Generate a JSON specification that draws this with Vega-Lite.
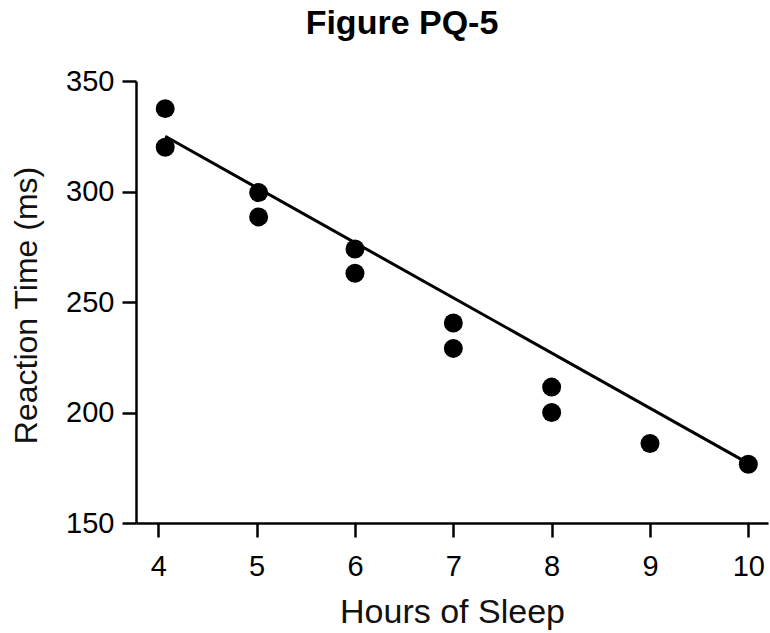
{
  "$schema": "https://vega.github.io/schema/vega-lite/v6.json",
  "autosize": "none",
  "width": 632,
  "height": 442,
  "padding": {"left": 136, "top": 81, "right": 2, "bottom": 110},
  "background": "white",
  "title": {
    "text": "Figure PQ-5",
    "font": "Liberation Sans",
    "fontSize": 34,
    "fontWeight": "bold",
    "color": "black",
    "anchor": "middle",
    "frame": "group",
    "baseline": "alphabetic",
    "offset": -1,
    "dx": -50
  },
  "config": {
    "view": {"stroke": null},
    "font": "Liberation Sans",
    "axis": {
      "grid": false,
      "domainColor": "black",
      "domainWidth": 2.5,
      "tickColor": "black",
      "tickWidth": 2.5,
      "tickSize": 14,
      "labelFont": "Liberation Sans",
      "labelFontSize": 29,
      "labelColor": "black",
      "titleFont": "Liberation Sans",
      "titleFontWeight": "normal",
      "titleColor": "#111"
    }
  },
  "datasets": {
    "points": [
      {"hours": 4.07, "rt": 337.5},
      {"hours": 4.07, "rt": 320},
      {"hours": 5.02, "rt": 299.5},
      {"hours": 5.02, "rt": 288.5},
      {"hours": 6.0, "rt": 274},
      {"hours": 6.0, "rt": 263},
      {"hours": 7.0, "rt": 240.5},
      {"hours": 7.0, "rt": 229},
      {"hours": 8.0, "rt": 211.5},
      {"hours": 8.0, "rt": 200},
      {"hours": 9.0, "rt": 186},
      {"hours": 10.0, "rt": 176.6}
    ],
    "fit": [
      {"hours": 4.07, "rt": 325},
      {"hours": 10.0, "rt": 177}
    ]
  },
  "layer": [
    {
      "data": {"name": "fit"},
      "mark": {"type": "line", "color": "black", "strokeWidth": 3},
      "encoding": {
        "x": {"field": "hours", "type": "quantitative"},
        "y": {"field": "rt", "type": "quantitative"}
      }
    },
    {
      "data": {"name": "points"},
      "mark": {"type": "circle", "color": "black", "opacity": 1, "size": 360},
      "encoding": {
        "x": {
          "field": "hours",
          "type": "quantitative",
          "title": "Hours of Sleep",
          "scale": {"domain": [3.773, 10.2], "nice": false, "zero": false},
          "axis": {
            "values": [4, 5, 6, 7, 8, 9, 10],
            "format": "d",
            "labelPadding": 15,
            "titleFontSize": 34,
            "titleBaseline": "alphabetic",
            "titleY": 99
          }
        },
        "y": {
          "field": "rt",
          "type": "quantitative",
          "title": "Reaction Time (ms)",
          "scale": {"domain": [150, 350], "nice": false, "zero": false},
          "axis": {
            "values": [150, 200, 250, 300, 350],
            "format": "d",
            "labelPadding": 8,
            "titleFontSize": 32,
            "titleBaseline": "alphabetic",
            "titleX": -100,
            "titleY": 224
          }
        }
      }
    }
  ]
}
